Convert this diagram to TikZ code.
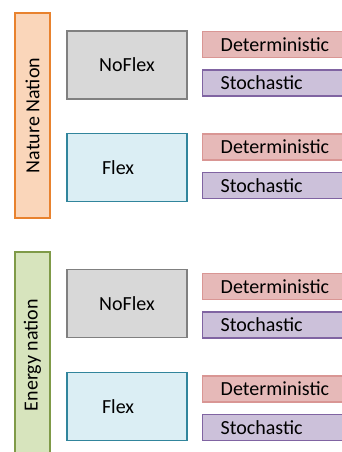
\documentclass[tikz,border=0pt]{standalone}
\usepackage{fontspec}
\setmainfont{Carlito}

\definecolor{natfill}{HTML}{FAD6BA}
\definecolor{natline}{HTML}{E8822E}
\definecolor{engfill}{HTML}{D7E4BD}
\definecolor{engline}{HTML}{7F9A48}
\definecolor{noflexfill}{HTML}{D8D8D8}
\definecolor{noflexline}{HTML}{808080}
\definecolor{flexfill}{HTML}{DBEEF4}
\definecolor{flexline}{HTML}{31859C}
\definecolor{detfill}{HTML}{E6B9B8}
\definecolor{detline}{HTML}{D99694}
\definecolor{stofill}{HTML}{CCC1DA}
\definecolor{stoline}{HTML}{8064A2}

\tikzstyle{nationbar}=[draw, line width=1.2pt, rotate=90, minimum width=205pt, minimum height=35pt, inner sep=0pt]
\tikzstyle{casebox}=[draw, line width=1.6pt, minimum width=120pt, minimum height=68pt]
\tikzstyle{runbox}=[draw, line width=1.4pt, anchor=west, minimum height=26pt, text width=110pt, inner xsep=18pt, inner ysep=0pt, align=left]

\begin{document}
\begin{tikzpicture}[x=1pt, y=-1pt, font=\fontsize{20}{24}\selectfont]
      \useasboundingbox (0,0) rectangle (342,452);
      \node[nationbar, fill=natfill, draw=natline] (nature) at (32.5, 115.5) {Nature Nation};
      \node[nationbar, fill=engfill, draw=engline, minimum width=206pt] (energy) at (32.5, 355) {Energy nation};
      \node[casebox, fill=noflexfill, draw=noflexline] (noflexA) at (127, 65) {NoFlex};
      \node[casebox, fill=flexfill, draw=flexline] (flexA) at (127, 167.5) {\makebox[50pt][l]{Flex}};
      \node[casebox, fill=noflexfill, draw=noflexline] (noflexB) at (127, 303.5) {NoFlex};
      \node[casebox, fill=flexfill, draw=flexline] (flexB) at (127, 406.5) {\makebox[50pt][l]{Flex}};
      \foreach \y [count=\i] in {44.5, 147, 286.5, 389} {%
        \node[runbox, fill=detfill, draw=detline] (det\i) at (202, \y) {Deterministic};
        \node[runbox, fill=stofill, draw=stoline] (sto\i) at (202, \y+38.5) {Stochastic};
      }
    \end{tikzpicture}
\end{document}
